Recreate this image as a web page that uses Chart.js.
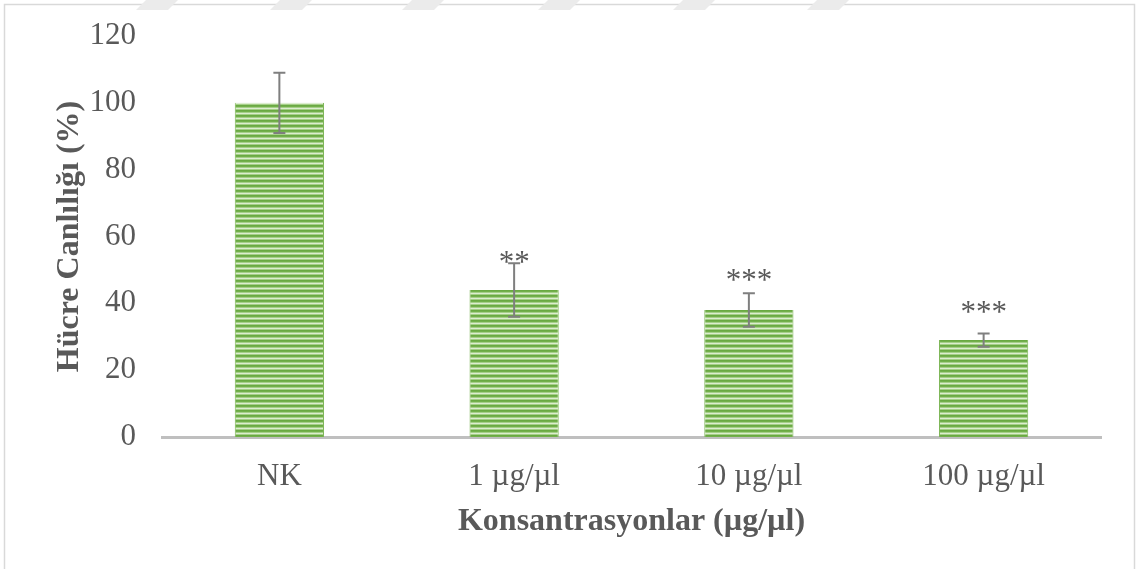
<!DOCTYPE html>
<html lang="tr">
<head>
<meta charset="utf-8">
<title>Hücre Canlılığı</title>
<script src="https://cdn.jsdelivr.net/npm/chart.js@4.4.1/dist/chart.umd.min.js"></script>
<style>
  html, body { margin: 0; padding: 0; background: #ffffff; }
  #wrap { width: 1139px; height: 569px; position: relative; }
  canvas { display: block; }
</style>
</head>
<body>
<div id="wrap"><canvas id="chart" width="1139" height="569"></canvas></div>
<script>
// Cell viability per concentration (mean ± SD)
const categories   = ['NK', '1 µg/µl', '10 µg/µl', '100 µg/µl'];
const viability    = [100, 44, 38, 29];
const errorSD      = [9, 8, 5, 2];
const significance = ['', '**', '***', '***'];
// value-axis height at which each significance marker is centred
const significanceY = [null, 54, 48.5, 39];
const yTicks       = [0, 20, 40, 60, 80, 100, 120];

const TEXT = '#595959';
const SERIF = '"Liberation Serif", "Times New Roman", serif';

// horizontal-stripe fill for the bars
function stripePattern() {
  const c = document.createElement('canvas');
  c.width = 8; c.height = 5;
  const g = c.getContext('2d');
  const rows = ['#6aa943', '#72b04b', '#a5cf88', '#dcedcf', '#a5cf88'];
  rows.forEach((col, i) => { g.fillStyle = col; g.fillRect(0, i, 8, 1); });
  return g.createPattern(c, 'repeat');
}

const ctx = document.getElementById('chart').getContext('2d');

const frame = {
  id: 'frame',
  beforeDraw(chart) {
    const g = chart.ctx;
    g.save();
    // outer chart border
    g.strokeStyle = '#d9d9d9';
    g.lineWidth = 1.5;
    g.strokeRect(4.5, 4.5, 1130, 590);
    // faint diagonal marks along the top edge
    g.fillStyle = '#ebebeb';
    [136, 270, 402, 538, 673, 807].forEach(x0 => {
      g.beginPath();
      g.moveTo(x0 + 10, 0);
      g.lineTo(x0 + 42, 0);
      g.lineTo(x0 + 32, 10);
      g.lineTo(x0, 10);
      g.closePath();
      g.fill();
    });
    g.restore();
  }
};

const errorBars = {
  id: 'errorBars',
  afterDatasetsDraw(chart) {
    const g = chart.ctx;
    const y = chart.scales.y;
    const meta = chart.getDatasetMeta(0);
    g.save();
    g.strokeStyle = '#7f7f7f';
    g.lineWidth = 2;
    meta.data.forEach((bar, i) => {
      const x = bar.x;
      const top = y.getPixelForValue(viability[i] + errorSD[i]);
      const bot = y.getPixelForValue(viability[i] - errorSD[i]);
      g.beginPath();
      g.moveTo(x, top); g.lineTo(x, bot);
      g.moveTo(x - 6, top); g.lineTo(x + 6, top);
      g.moveTo(x - 6, bot); g.lineTo(x + 6, bot);
      g.stroke();
    });
    // significance markers
    g.fillStyle = TEXT;
    g.font = '31px ' + SERIF;
    g.textAlign = 'center';
    g.textBaseline = 'alphabetic';
    meta.data.forEach((bar, i) => {
      if (!significance[i]) return;
      const m = g.measureText(significance[i]);
      const yc = y.getPixelForValue(significanceY[i]);
      const off = (m.actualBoundingBoxAscent - m.actualBoundingBoxDescent) / 2;
      g.fillText(significance[i], bar.x, yc + off);
    });
    g.restore();
  }
};

new Chart(ctx, {
  type: 'bar',
  data: {
    labels: categories,
    datasets: [{
      data: viability,
      backgroundColor: stripePattern(),
      borderColor: '#7db656',
      borderWidth: { left: 1, right: 1, top: 0, bottom: 0 },
      borderSkipped: false,
      categoryPercentage: 1.0,
      barPercentage: 0.38
    }]
  },
  options: {
    responsive: false,
    animation: false,
    layout: { padding: { top: 36, right: 38, bottom: 0, left: 0 } },
    plugins: {
      legend: { display: false },
      tooltip: { enabled: false }
    },
    scales: {
      x: {
        z: 1,
        grid: { display: false, drawTicks: false },
        border: { display: true, color: '#bfbfbf', width: 3 },
        ticks: {
          color: TEXT,
          padding: 21,
          font: { family: SERIF, size: 31 }
        },
        title: {
          display: true,
          text: 'Konsantrasyonlar (µg/µl)',
          color: TEXT,
          font: { family: SERIF, size: 32, weight: 'bold' },
          padding: { top: 0, bottom: 28 }
        },
        afterFit(scale) { scale.height = 132; }
      },
      y: {
        min: 0,
        max: 120,
        grid: { display: false, drawTicks: false },
        border: { display: false },
        afterBuildTicks(scale) { scale.ticks = yTicks.map(v => ({ value: v })); },
        ticks: {
          color: TEXT,
          padding: 26,
          font: { family: SERIF, size: 31 }
        },
        title: {
          display: true,
          text: 'Hücre Canlılığı (%)',
          color: TEXT,
          font: { family: SERIF, size: 32, weight: 'bold' },
          padding: { top: 51, bottom: 0 }
        },
        afterFit(scale) {
          scale.width = 162;
          scale.paddingTop = 0;
          scale.paddingBottom = 0;
        }
      }
    }
  },
  plugins: [frame, errorBars]
});
</script>
</body>
</html>
